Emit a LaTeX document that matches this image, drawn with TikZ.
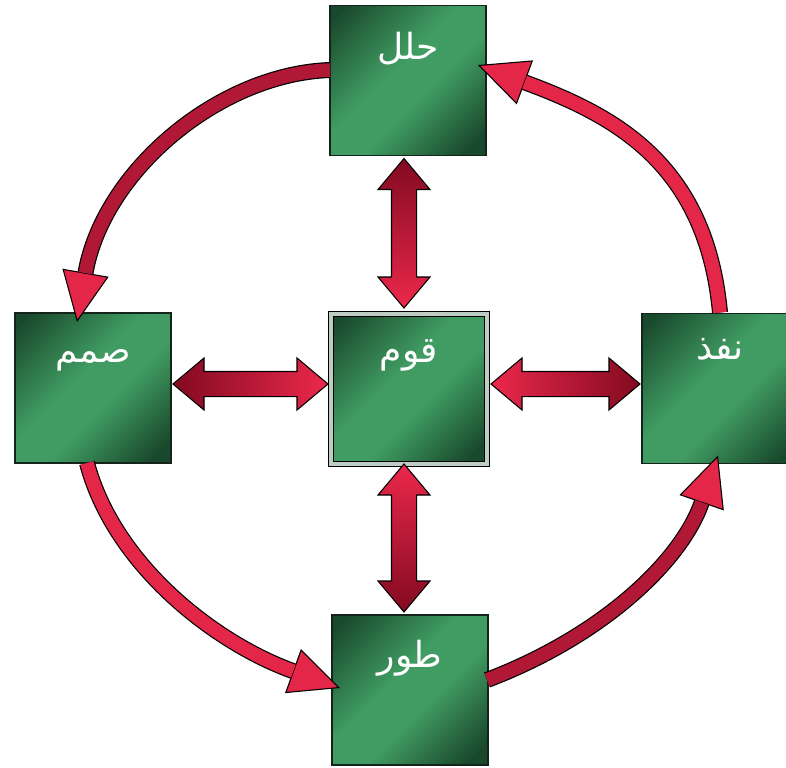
\documentclass[tikz,border=0pt]{standalone}
\usepackage{fontspec}
\usetikzlibrary{calc,arrows.meta}
\TeXXeTstate=1
\newfontfamily\arabicfont[Script=Arabic]{DejaVu Sans}
\definecolor{gmid}{RGB}{64,156,98}
\definecolor{gdark}{RGB}{22,66,40}
\definecolor{gline}{RGB}{20,36,26}
\definecolor{adark}{RGB}{130,10,32}
\definecolor{abright}{RGB}{236,40,76}
\definecolor{cbright}{RGB}{228,38,72}
\definecolor{cdark}{RGB}{176,24,54}
\definecolor{gapgray}{RGB}{190,205,195}
\pgfdeclarehorizontalshading{boxshade}{100bp}{color(0bp)=(gdark); color(18bp)=(gdark!92!gmid); color(44bp)=(gmid); color(57bp)=(gmid); color(80bp)=(gdark!92!gmid); color(100bp)=(gdark)}
\tikzset{
  box/.style={draw=gline, line width=1.1pt, shading=boxshade, shading angle=-45,
    minimum width=117pt, minimum height=112.5pt, inner sep=0pt, outer sep=0pt},
  lbl/.style={text=white, anchor=base, font=\arabicfont\fontsize{27}{30}\selectfont, inner sep=0pt},
  dbl/.style={draw=black, line width=0.8pt, line join=miter},
  cblack/.style={line width=12pt, draw=black,
    -{Triangle[length=37.5pt,width=35pt,fill=cbright,color=black,line width=0.8pt]}},
  cred/.style={line width=10.2pt, shorten >=37.2pt},
}
\newcommand\vdarrow[4]{%
  \shade[dbl, top color=#3, bottom color=#4] let \p1=#1, \p2=#2 in
  (\x1,\y1) -- (\x1+19.5pt,\y1-23.25pt) -- (\x1+9.4pt,\y1-23.25pt) -- (\x1+9.4pt,\y2+23.25pt)
  -- (\x1+19.5pt,\y2+23.25pt) -- (\x1,\y2) -- (\x1-19.5pt,\y2+23.25pt) -- (\x1-9.4pt,\y2+23.25pt)
  -- (\x1-9.4pt,\y1-23.25pt) -- (\x1-19.5pt,\y1-23.25pt) -- cycle;}
\newcommand\hdarrow[4]{%
  \shade[dbl, left color=#3, right color=#4] let \p1=#1, \p2=#2 in
  (\x1,\y1) -- (\x1+23.25pt,\y1+19.5pt) -- (\x1+23.25pt,\y1+9.4pt) -- (\x2-23.25pt,\y1+9.4pt)
  -- (\x2-23.25pt,\y1+19.5pt) -- (\x2,\y1) -- (\x2-23.25pt,\y1-19.5pt) -- (\x2-23.25pt,\y1-9.4pt)
  -- (\x1+23.25pt,\y1-9.4pt) -- (\x1+23.25pt,\y1-19.5pt) -- cycle;}
\begin{document}
\begin{tikzpicture}[x=0.75pt, y=-0.75pt]
\useasboundingbox (0,0) rectangle (786,768);
\fill[white] (0,0) rectangle (786,768);
% boxes
\node[box] (top) at (408,80.5) {};
\node[box] (left) at (93,388) {};
\node[box] (right) at (720,388.5) {};
\node[box] (bot) at (410,690) {};
\node[box, draw=black, line width=0.9pt, double=gapgray, double distance=2.4pt] (ctr) at (409,389) {};
% labels
\node[lbl] (ttop) at ($(top.north)+(0,54)$) {\beginR حلل\endR};
\node[lbl] (tleft) at ($(left.north)+(0,49)$) {\beginR صمم\endR};
\node[lbl] (tctr) at ($(ctr.north)+(0,48)$) {\beginR قوم\endR};
\node[lbl] (tright) at ($(right.north)+(0,46)$) {\beginR نفذ\endR};
\node[lbl] (tbot) at ($(bot.north)+(0,52)$) {\beginR طور\endR};
% straight double arrows
\vdarrow{($(top.south)+(-4,3)$)}{($(ctr.north)+(0,-6)$)}{adark}{abright}
\vdarrow{($(ctr.south)+(-5,0)$)}{($(bot.north)+(0,-3)$)}{abright}{adark}
\hdarrow{($(left.east)+(2,-4)$)}{($(ctr.west)+(-3,0)$)}{adark}{abright}
\hdarrow{($(ctr.east)+(4,-5)$)}{($(right.west)+(-2,0)$)}{abright}{adark}
% curved arrows
\draw[cblack] ($(top.west)+(0,-10.5)$) .. controls +(-112,4) and +(26,-150) .. ($(left.north)+(-16,9)$);
\draw[cred, cdark] ($(top.west)+(0,-10.5)$) .. controls +(-112,4) and +(26,-150) .. ($(left.north)+(-16,9)$);
\draw[cblack] ($(left.south)+(-6,0)$) .. controls +(27,102) and +(-125,-45) .. ($(bot.west)+(8,-2)$);
\draw[cred, cbright] ($(left.south)+(-6,0)$) .. controls +(27,102) and +(-125,-45) .. ($(bot.west)+(8,-2)$);
\draw[cblack] ($(bot.east)+(-1,-10)$) .. controls +(118,-45) and +(-36,104) .. ($(right.south)+(-2,-8)$);
\draw[cred, cdark] ($(bot.east)+(-1,-10)$) .. controls +(118,-45) and +(-36,104) .. ($(right.south)+(-2,-8)$);
\draw[cblack] ($(right.north)+(0,-1)$) .. controls +(-14,-150) and +(135,50) .. ($(top.east)+(-8,-15.5)$);
\draw[cred, cbright] ($(right.north)+(0,-1)$) .. controls +(-14,-150) and +(135,50) .. ($(top.east)+(-8,-15.5)$);
\end{tikzpicture}
\end{document}
